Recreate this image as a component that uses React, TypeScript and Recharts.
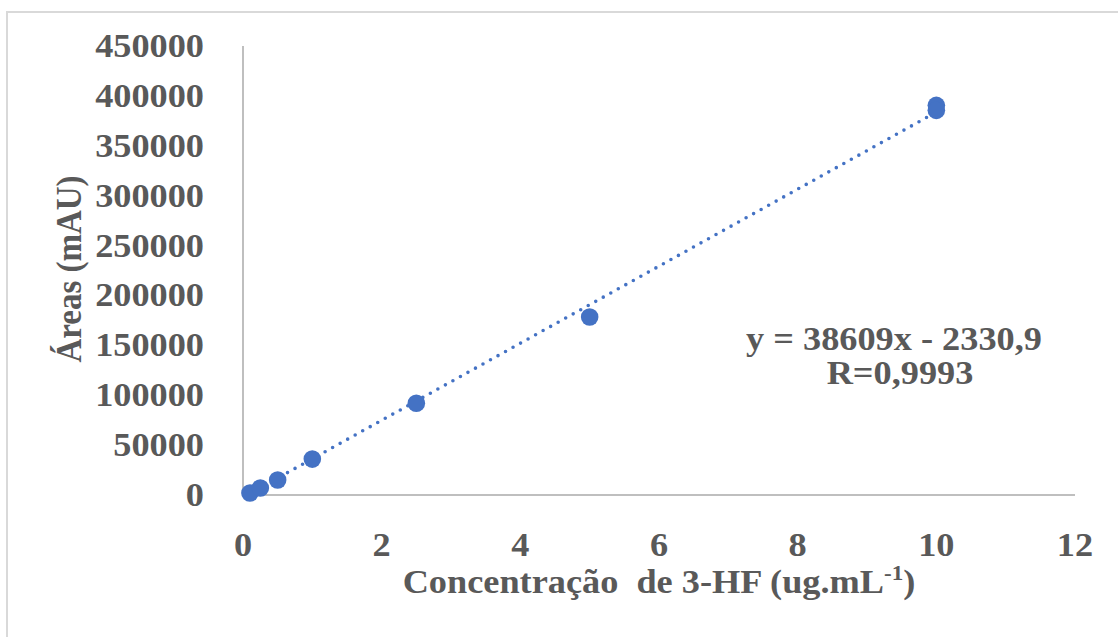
import React from 'react';
import { ScatterChart, Scatter, XAxis, YAxis } from 'recharts';

// Calibration points: concentration (ug/mL) vs peak area (mAU)
const concentrations = [0.1, 0.25, 0.5, 1, 2.5, 5, 10, 10];
const areas = [2000, 7000, 15000, 36000, 92000, 178400, 390500, 385500];

const xTicks = [0, 2, 4, 6, 8, 10, 12];
const yTicks = [0, 50000, 100000, 150000, 200000, 250000, 300000, 350000, 400000, 450000];

// Linear fit reported on the chart
const slope = 38609;
const intercept = -2330.9;
const fitLabel = 'y = 38609x - 2330,9';
const rLabel = 'R=0,9993';

const points = concentrations.map((x, i) => ({ x, y: areas[i] }));
const xMin = Math.min(...concentrations);
const xMax = Math.max(...concentrations);
const trend = [xMin, xMax].map((x) => ({ x, y: slope * x + intercept }));

const W = 1118;
const H = 637;
const BLUE = '#4472C4';
const TEXT = '#595959';
const AXIS = '#BFBFBF';
const FONT = '"Liberation Serif", "Times New Roman", serif';
const STRETCH = 1.1;
const FS = 33;

const BoldText = ({ x, y, anchor = 'middle', children, rotate = false, size = FS }: any) => (
    <text
        transform={
            rotate
                ? `translate(${x} ${y}) rotate(-90) scale(1 ${STRETCH})`
                : `translate(${x} ${y}) scale(${STRETCH} 1)`
        }
        textAnchor={anchor}
        fontFamily={FONT}
        fontWeight="bold"
        fontSize={size}
        fill={TEXT}
        style={{ whiteSpace: 'pre' }}
    >
        {children}
    </text>
);

const XTick = ({ x, y, payload }: any) => (
    <BoldText x={x} y={y + 53}>{payload.value}</BoldText>
);

const YTick = ({ x, y, payload }: any) => (
    <BoldText x={x - 31} y={y + 11} anchor="end">{payload.value}</BoldText>
);

const Dot = ({ cx, cy }: any) => <circle cx={cx} cy={cy} r={8.8} fill={BLUE} />;

const App: React.FC = () => {
    return (
        <div style={{ position: 'absolute', left: 0, top: 0, width: W, height: H, background: '#fff' }}>
            <div
                style={{
                    position: 'absolute',
                    left: 6,
                    top: 11,
                    width: W - 6,
                    height: H - 11,
                    borderTop: '2px solid #D9D9D9',
                    borderLeft: '2px solid #D9D9D9',
                    boxSizing: 'border-box',
                }}
            />
            <div style={{ position: 'absolute', left: 0, top: 0 }}>
                <ScatterChart width={W} height={H} margin={{ top: 46, right: 43, bottom: 0, left: 0 }}>
                    <XAxis
                        type="number"
                        dataKey="x"
                        domain={[0, 12]}
                        ticks={xTicks}
                        height={142}
                        stroke={AXIS}
                        strokeWidth={2}
                        tickLine={false}
                        tick={<XTick />}
                        interval={0}
                    />
                    <YAxis
                        type="number"
                        dataKey="y"
                        domain={[0, 450000]}
                        ticks={yTicks}
                        width={243}
                        stroke={AXIS}
                        strokeWidth={2}
                        tickLine={false}
                        tick={<YTick />}
                        interval={0}
                    />
                    <Scatter
                        data={trend}
                        line={{ stroke: BLUE, strokeWidth: 3.6, strokeDasharray: '0 8.6', strokeLinecap: 'round' }}
                        shape={() => <g />}
                        isAnimationActive={false}
                    />
                    <Scatter data={points} shape={<Dot />} isAnimationActive={false} />
                </ScatterChart>
            </div>
            <svg width={W} height={H} style={{ position: 'absolute', left: 0, top: 0, pointerEvents: 'none' }}>
                <BoldText x={81} y={269} rotate>Áreas (mAU)</BoldText>
                <BoldText x={659} y={593}>
                    {'Concentração  de 3-HF (ug.mL'}
                    <tspan dy={-13} fontSize={21}>-1</tspan>
                    <tspan dy={13}>)</tspan>
                </BoldText>
                <BoldText x={894} y={350}>{fitLabel}</BoldText>
                <BoldText x={900} y={384}>{rLabel}</BoldText>
            </svg>
        </div>
    );
};

export default App;
